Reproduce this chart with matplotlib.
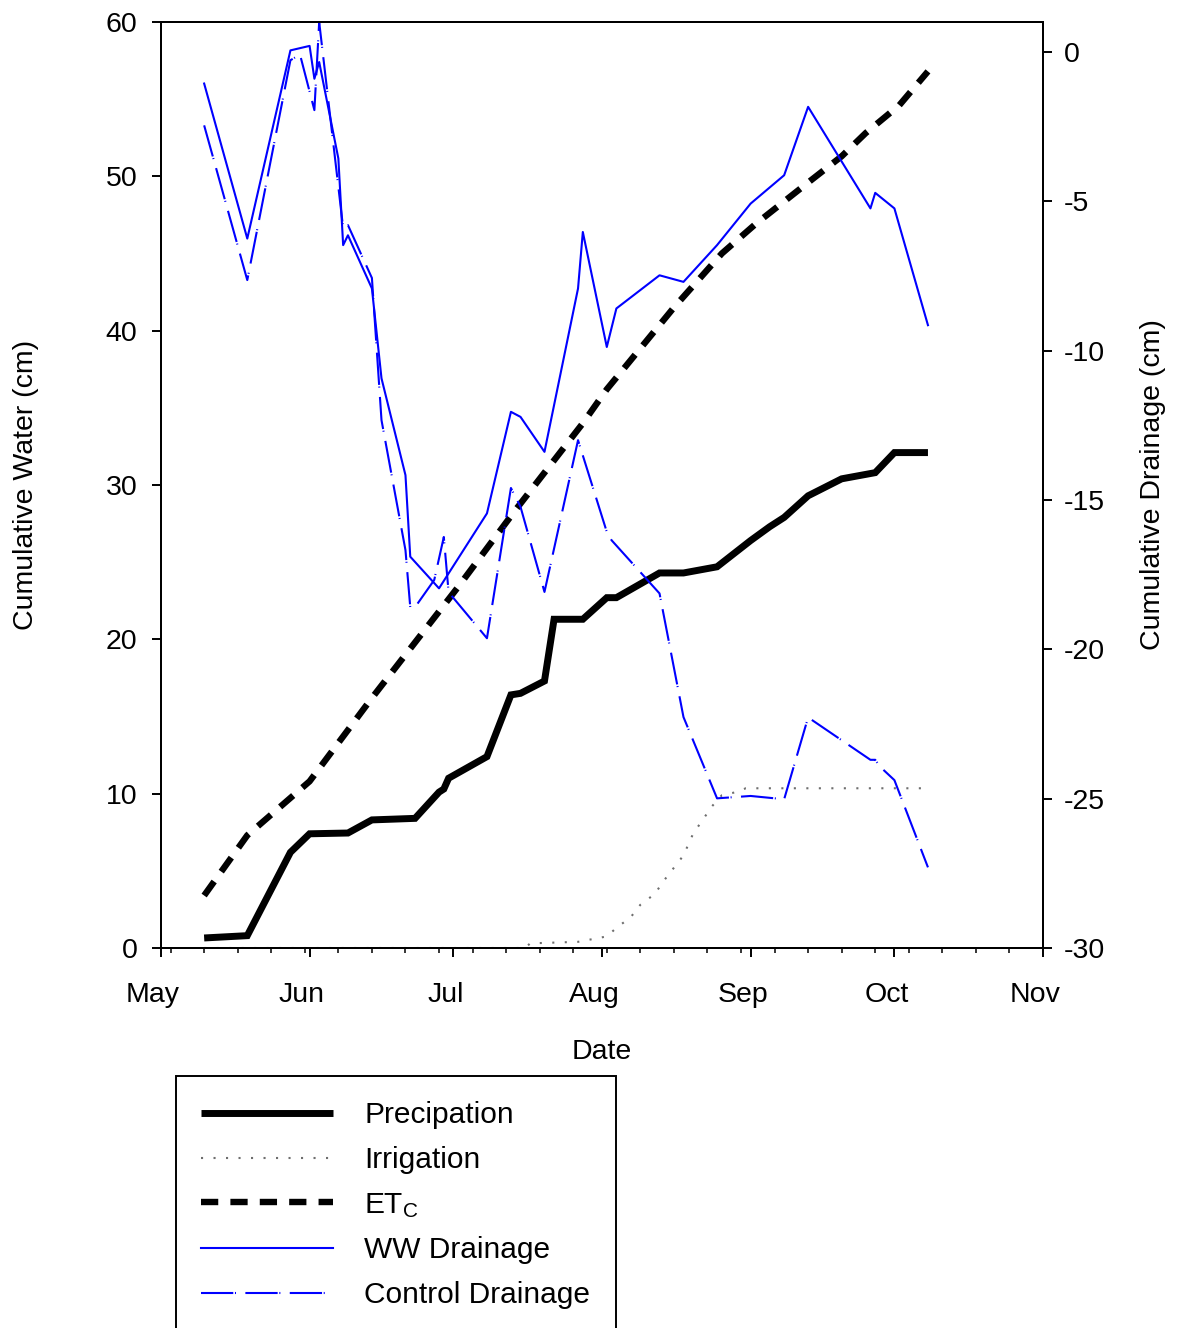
import numpy as np
import matplotlib
matplotlib.use("Agg")
import matplotlib.pyplot as plt
import matplotlib.dates as mdates
from matplotlib.transforms import ScaledTranslation

FONT = ["Liberation Sans", "DejaVu Sans"]
plt.rcParams["font.family"] = FONT
plt.rcParams["axes.unicode_minus"] = False
plt.rcParams["mathtext.fontset"] = "custom"
plt.rcParams["mathtext.rm"] = "Liberation Sans"
plt.rcParams["mathtext.it"] = "Liberation Sans:italic"

YEAR = 2010

# Cumulative precipitation (cm)
precip_dates = ["05-10", "05-19", "05-28", "06-01", "06-09", "06-14", "06-23",
                "06-28", "06-29", "06-30", "07-08", "07-13", "07-15", "07-20",
                "07-22", "07-28", "08-02", "08-04", "08-13", "08-18", "08-25",
                "09-01", "09-05", "09-08", "09-13", "09-20", "09-27", "10-01",
                "10-08"]
precip_vals = [0.65, 0.8, 6.2, 7.4, 7.45, 8.3, 8.4, 10.1, 10.3, 11.0, 12.4,
               16.4, 16.5, 17.3, 21.3, 21.3, 22.7, 22.7, 24.3, 24.3, 24.7,
               26.4, 27.3, 27.9, 29.3, 30.4, 30.8, 32.1, 32.1]

# Cumulative irrigation (cm)
irr_dates = ["05-10", "07-16", "07-17", "07-27", "08-02", "08-04", "08-07",
             "08-09", "08-12", "08-14", "08-16", "08-18", "08-20", "08-22",
             "08-24", "08-26", "08-29", "08-31", "10-08"]
irr_vals = [0.0, 0.0, 0.3, 0.4, 0.75, 1.3, 2.0, 2.8, 3.5, 4.4, 5.2, 6.0, 7.4,
            8.3, 9.2, 9.9, 10.1, 10.35, 10.35]

# Cumulative crop evapotranspiration (cm)
etc_dates = ["05-10", "05-19", "06-01", "06-14", "06-27", "07-02", "07-14",
             "07-21", "07-28", "08-02", "08-16", "08-26", "09-02", "09-13",
             "09-20", "09-25", "10-02", "10-08"]
etc_vals = [3.4, 7.3, 10.8, 16.2, 21.4, 23.4, 28.4, 31.2, 34.0, 36.2, 41.5,
            45.0, 46.9, 49.6, 51.3, 52.8, 54.6, 56.8]

# Cumulative drainage, WW treatment (cm)
ww_dates = ["05-10", "05-19", "05-28", "06-01", "06-02", "06-03", "06-07",
            "06-08", "06-09", "06-14", "06-16", "06-21", "06-22", "06-28",
            "07-08", "07-13", "07-15", "07-20", "07-27", "07-28", "08-02",
            "08-04", "08-13", "08-18", "08-25", "09-01", "09-08", "09-13",
            "09-26", "09-27", "10-01", "10-08"]
ww_vals = [-1.06, -6.25, 0.05, 0.2, -0.9, -0.34, -3.57, -6.47, -6.14, -7.92,
           -10.93, -14.17, -16.9, -17.96, -15.45, -12.05, -12.22, -13.39,
           -7.92, -6.03, -9.88, -8.59, -7.48, -7.7, -6.47, -5.08, -4.13,
           -1.84, -5.24, -4.72, -5.24, -9.15]

# Cumulative drainage, control treatment (cm)
ctl_dates = ["05-10", "05-19", "05-28", "05-30", "06-02", "06-03", "06-08",
             "06-09", "06-14", "06-16", "06-21", "06-22", "06-23", "06-27",
             "06-29", "06-30", "07-08", "07-13", "07-15", "07-20", "07-27",
             "08-02", "08-03", "08-13", "08-18", "08-25", "09-01", "09-08",
             "09-13", "09-26", "09-27", "09-28", "10-01", "10-08"]
ctl_vals = [-2.46, -7.64, -0.28, -0.09, -1.95, 1.0, -5.9, -5.8, -7.57, -12.33,
            -16.68, -18.59, -18.59, -17.68, -16.24, -18.09, -19.63, -14.6,
            -15.23, -18.08, -13.0, -16.07, -16.35, -18.13, -22.27, -24.99,
            -24.91, -25.02, -22.28, -23.7, -23.7, -23.93, -24.38, -27.3]

water_ticks = [0, 10, 20, 30, 40, 50, 60]
drain_ticks = [-30, -25, -20, -15, -10, -5, 0]


def to_dates(md):
    return np.array([np.datetime64(f"{YEAR}-{s}") for s in md])


W, H = 1182, 1328
fig = plt.figure(figsize=(W / 100, H / 100), dpi=100)
ax = fig.add_axes([161 / W, 1 - 948 / H, (1043 - 161) / W, (948 - 22) / H])
ax2 = ax.twinx()

LW_AX = 1.4
BLUE = "#0000ff"
TICK_FS = 20.5
LABEL_FS = 20.5
LEG_FS = 21.5

p_line, = ax.plot(to_dates(precip_dates), precip_vals, color="black", lw=5,
                  solid_joinstyle="miter", solid_capstyle="butt",
                  label="Precipation")
i_line, = ax.plot(to_dates(irr_dates), irr_vals, color="#6e6e6e", lw=1.5,
                  linestyle=(0, (1, 5)), label="Irrigation")
e_line, = ax.plot(to_dates(etc_dates), etc_vals, color="black", lw=4.6,
                  linestyle=(0, (2.7, 1.9)), dash_capstyle="butt",
                  label="ET$_\\mathregular{C}$")
w_line, = ax2.plot(to_dates(ww_dates), ww_vals, color=BLUE, lw=1.5,
                   label="WW Drainage")
c_line, = ax2.plot(to_dates(ctl_dates), ctl_vals, color=BLUE, lw=1.5,
                   linestyle=(0, (15.5, 0.8, 0.5, 4.5)),
                   label="Control Drainage")

x0 = np.datetime64(f"{YEAR}-05-01")
x1 = np.datetime64(f"{YEAR}-11-01")
ax.set_xlim(x0, x1)
ax.set_ylim(0, 60)
ax2.set_ylim(-30, 1)

ax.xaxis.set_major_locator(mdates.MonthLocator())
ax.xaxis.set_major_formatter(mdates.DateFormatter("%b"))
ax.xaxis.set_minor_locator(mdates.WeekdayLocator(byweekday=mdates.MO))
ax.set_yticks(water_ticks)
ax.set_yticklabels([str(v) for v in water_ticks])
ax2.set_yticks(drain_ticks)
ax2.set_yticklabels([str(v) for v in drain_ticks])

for a in (ax, ax2):
    for sp in a.spines.values():
        sp.set_linewidth(LW_AX)
        sp.set_color("black")

ax.tick_params(axis="x", which="major", direction="out", length=6.2,
               width=LW_AX, pad=18, labelsize=TICK_FS)
ax.tick_params(axis="x", which="minor", direction="out", length=3.6,
               width=1.1)
ax.tick_params(axis="y", which="major", direction="out", length=6.5,
               width=LW_AX, pad=10.5, labelsize=TICK_FS)
ax2.tick_params(axis="y", which="major", direction="out", length=6.5,
                width=LW_AX, pad=8.5, labelsize=TICK_FS)

# month names sit a little left of their ticks
shift = ScaledTranslation(-8 / 100, 0, fig.dpi_scale_trans)
for lbl in ax.get_xticklabels():
    lbl.set_transform(lbl.get_transform() + shift)

ax.set_xlabel("Date", fontsize=LABEL_FS)
ax.xaxis.label.set_va("center")
ax.xaxis.set_label_coords(0.5, (948 - 1052) / 926)

ax.set_ylabel("Cumulative Water (cm)", fontsize=LABEL_FS)
ax.yaxis.label.set_va("center")
ax.yaxis.set_label_coords((26 - 161) / 882, 0.5)

ax2.set_ylabel("Cumulative Drainage (cm)", fontsize=LABEL_FS, rotation=90)
ax2.yaxis.label.set_va("center")
ax2.yaxis.set_label_coords((1153 - 161) / 882, 0.5)

handles = [p_line, i_line, e_line, w_line, c_line]
leg = fig.legend(handles, [h.get_label() for h in handles],
                 loc="upper left",
                 bbox_to_anchor=(176 / W, 1 - 1076 / H),
                 bbox_transform=fig.transFigure,
                 fontsize=LEG_FS, frameon=True, fancybox=False,
                 edgecolor="black", framealpha=1, borderaxespad=0,
                 borderpad=0.85, labelspacing=0.56, handlelength=4.4,
                 handletextpad=1.05)
leg.get_frame().set_linewidth(LW_AX)

fig.savefig("out.png", dpi=100)
